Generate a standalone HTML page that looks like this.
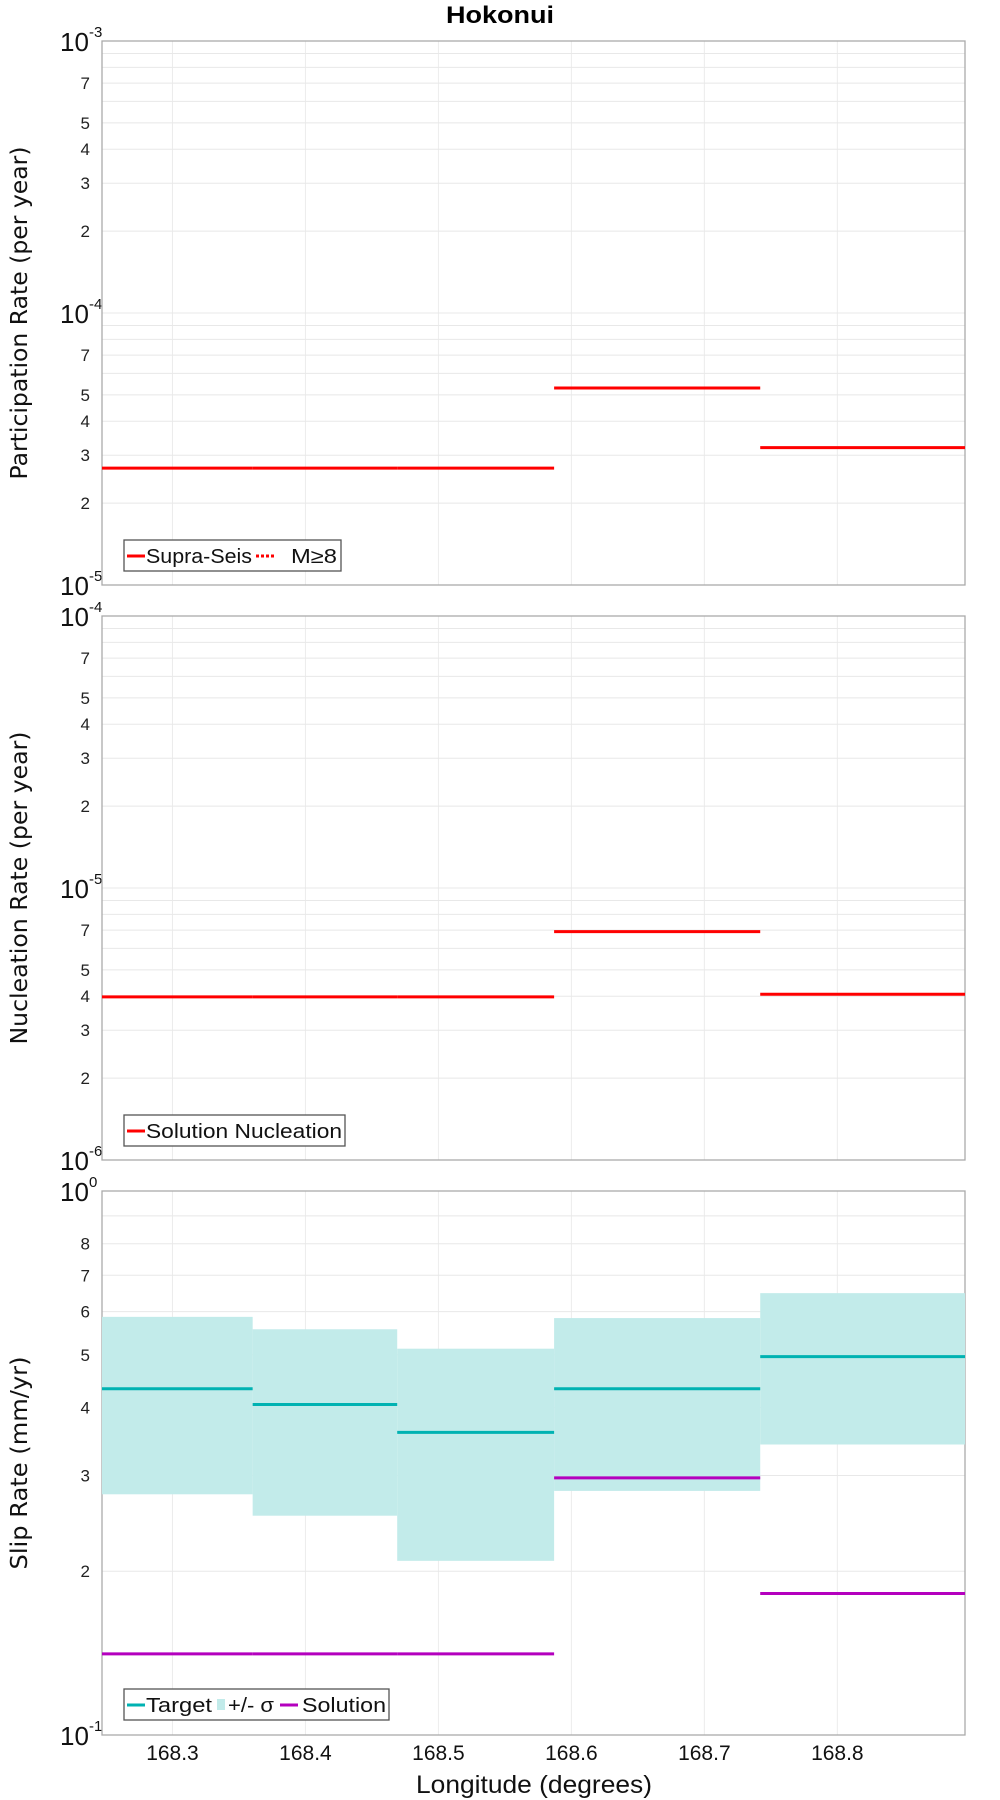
<!DOCTYPE html>
<html><head><meta charset="utf-8"><style>
body{margin:0;background:#fff;}
svg{display:block;font-family:"Liberation Sans",sans-serif;}
</style></head><body>
<svg id="chart" width="1000" height="1800" xmlns="http://www.w3.org/2000/svg">
<text x="500" y="23" text-anchor="middle" font-size="24" font-weight="bold" textLength="108" lengthAdjust="spacingAndGlyphs">Hokonui</text>
</svg>
<script>
// x-axis data
const xTicks = [168.3, 168.4, 168.5, 168.6, 168.7, 168.8];
const xMin = 168.247, xMax = 168.896;
// participation panel
const partStarts = [168.247, 168.3603, 168.469, 168.587, 168.742];
const partEnds   = [168.3603, 168.469, 168.587, 168.742, 168.896];
const partValues = [2.69e-5, 2.69e-5, 2.69e-5, 5.3e-5, 3.2e-5];
// nucleation panel
const nuclValues = [3.98e-6, 3.98e-6, 3.98e-6, 6.91e-6, 4.07e-6];
// slip panel
const slipTarget = [0.433, 0.405, 0.360, 0.433, 0.496];
const slipUpper  = [0.587, 0.557, 0.513, 0.584, 0.649];
const slipLower  = [0.277, 0.253, 0.209, 0.281, 0.342];
const slipSolution = [0.141, 0.141, 0.141, 0.297, 0.182];
const xTickLabels = ["168.3","168.4","168.5","168.6","168.7","168.8"];

const NS = "http://www.w3.org/2000/svg";
const svg = document.getElementById("chart");
const L = 102, R = 965;
function X(v){ return L + (v - xMin) / (xMax - xMin) * (R - L); }
function mk(tag, attrs, parent){
  const e = document.createElementNS(NS, tag);
  for (const k in attrs) e.setAttribute(k, attrs[k]);
  (parent || svg).appendChild(e);
  return e;
}
function panel(name, top, bottom, expLo, expHi, labelDigits, title, titleLen){
  const g = mk("g", {});
  
  
  const Y = v => bottom - (Math.log10(v) - expLo) / (expHi - expLo) * (bottom - top);
  for (const t of xTicks){
    const l = mk("line", {x1:X(t), x2:X(t), y1:top, y2:bottom, stroke:"#ececec", "stroke-width":1}, g);
    
    
  }
  for (let e = expLo; e < expHi; e++){
    for (let m = 1; m <= 10; m++){
      const v = m * Math.pow(10, e), y = Y(v);
      const l = mk("line", {x1:L, x2:R, y1:y, y2:y, stroke:"#e8e8e8", "stroke-width":1}, g);
      
      
      if (m > 1 && m < 10 && labelDigits.indexOf(m) >= 0){
        const t = mk("text", {x:L-12, y:y+6, "text-anchor":"end", "font-size":17, fill:"#222"}, g);
        t.textContent = m;
        
        
      }
    }
  }
  for (let e = expLo; e <= expHi; e++){
    const y = Y(Math.pow(10, e));
    const t = mk("text", {x:L-42, y:y+10, "font-size":26, fill:"#111"}, g);
    t.textContent = "10";
    
    
    const s = mk("text", {x:L-13, y:y-4, "font-size":15, fill:"#111"}, g);
    s.textContent = String(e);
    
    
  }
  const b = mk("rect", {x:L, y:top, width:R-L, height:bottom-top, fill:"none", stroke:"#aaa", "stroke-width":1.3}, g);
  
  
  const cy = (top + bottom) / 2;
  const tt = mk("text", {x:0, y:0, "font-size":23, "text-anchor":"middle", textLength:titleLen, lengthAdjust:"spacingAndGlyphs", transform:`translate(27,${cy}) rotate(-90)`, fill:"#111", "font-family":"DejaVu Sans, sans-serif"}, g);
  tt.textContent = title;
  
  
  return {g, Y};
}
function seg(g, x1, x2, y, color, name){
  const l = mk("line", {x1:X(x1), x2:X(x2), y1:y, y2:y, stroke:color, "stroke-width":3}, g);
  
  
}
function legend(g, x, y, w, items){
  const r = mk("rect", {x:x, y:y, width:w, height:31, fill:"#fff", stroke:"#555", "stroke-width":1.3}, g);
  
  
  for (const it of items){
    if (it.fill){
      const s = mk("rect", {x:it.sx, y:y+10, width:8, height:11, fill:it.color}, g);
      
      
    } else {
      const s = mk("line", {x1:it.sx, x2:it.sx+18, y1:y+16, y2:y+16, stroke:it.color, "stroke-width":3, "stroke-dasharray":it.dash||"none"}, g);
      
      
    }
    const t = mk("text", {x:it.tx, y:y+23, "font-size":20, fill:"#111", textLength:it.len, lengthAdjust:"spacingAndGlyphs"}, g);
    t.textContent = it.label;
    
    
  }
}
// Panel 1
const p1 = panel("participation", 41, 585, -5, -3, [2,3,4,5,7], "Participation Rate (per year)", 333);
partValues.forEach((v,i)=>seg(p1.g, partStarts[i], partEnds[i], p1.Y(v), "#ff0000", "participation-line"));
legend(p1.g, 124, 540, 217, [
  {color:"#f00",label:"Supra-Seis",sx:127,tx:146,len:106},
  {color:"#f00",label:"M≥8",dash:"3,2",sx:256,tx:291,len:46}]);
// Panel 2
const p2 = panel("nucleation", 616, 1160, -6, -4, [2,3,4,5,7], "Nucleation Rate (per year)", 313);
nuclValues.forEach((v,i)=>seg(p2.g, partStarts[i], partEnds[i], p2.Y(v), "#ff0000", "nucleation-line"));
legend(p2.g, 124, 1115, 221, [{color:"#f00",label:"Solution Nucleation",sx:127,tx:146,len:196}]);
// Panel 3
const p3 = panel("slip", 1191, 1735, -1, 0, [2,3,4,5,6,7,8], "Slip Rate (mm/yr)", 213);
slipUpper.forEach((u,i)=>{
  const r = mk("rect", {x:X(partStarts[i]), y:p3.Y(u), width:X(partEnds[i])-X(partStarts[i]), height:p3.Y(slipLower[i])-p3.Y(u), fill:"#c2ebea"}, p3.g);
  
  
});
slipTarget.forEach((v,i)=>seg(p3.g, partStarts[i], partEnds[i], p3.Y(v), "#00b2b2", "target-line"));
slipSolution.forEach((v,i)=>seg(p3.g, partStarts[i], partEnds[i], p3.Y(v), "#b400be", "solution-line"));
legend(p3.g, 124, 1689, 265, [
  {color:"#00b2b2",label:"Target",sx:127,tx:146,len:66},
  {color:"#c2ebea",label:"+/- σ",fill:true,sx:217,tx:228,len:46},
  {color:"#b400be",label:"Solution",sx:280,tx:302,len:84}]);
// x axis
xTicks.forEach((t,i)=>{
  const e = mk("text", {x:X(t), y:1760, "text-anchor":"middle", "font-size":21, fill:"#111"});
  e.textContent = xTickLabels[i];
  
  
});
const xt = mk("text", {x:534, y:1793, "text-anchor":"middle", "font-size":25, fill:"#111", textLength:236, lengthAdjust:"spacingAndGlyphs"});
xt.textContent = "Longitude (degrees)";


</script>
</body></html>
